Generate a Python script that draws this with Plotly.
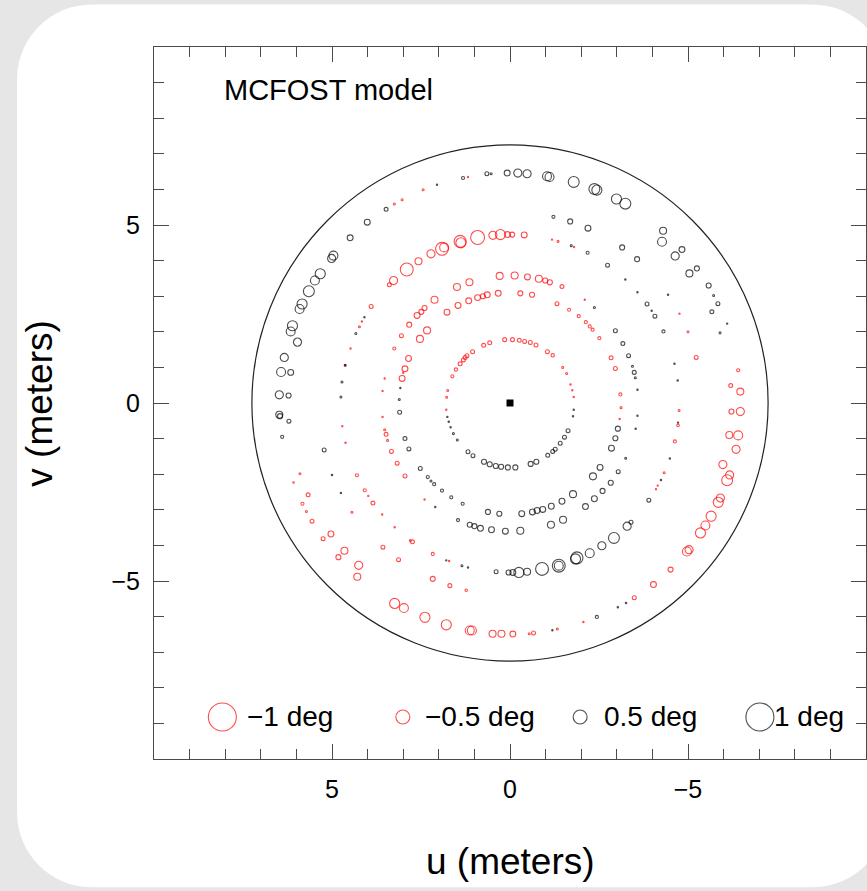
import plotly.graph_objects as go

# Closure-phase signal on the uv plane: (u [m], v [m], phase [deg])
outer_black_nw = [
    (3.48, 5.44, 0.14), (4.01, 5.08, 0.21), (4.49, 4.64, 0.21), (4.96, 4.14, 0.32),
    (5.01, 4.06, 0.29), (5.33, 3.63, 0.36), (5.48, 3.44, 0.32), (5.65, 3.14, 0.39),
    (5.84, 2.78, 0.36), (5.91, 2.64, 0.32), (6.11, 2.17, 0.36), (6.16, 2.01, 0.32),
    (5.97, 1.71, 0.29), (6.34, 1.28, 0.29), (6.43, 0.87, 0.32), (6.16, 0.86, 0.21),
    (6.48, 0.23, 0.29), (6.22, 0.21, 0.18), (6.48, -0.33, 0.25), (6.46, -0.37, 0.18),
    (6.21, -0.51, 0.14), (6.40, -0.95, 0.11), (5.22, -1.32, 0.14),
]
outer_black_n = [
    (1.32, 6.32, 0.11), (2.05, 6.13, 0.04), (0.65, 6.44, 0.14), (0.53, 6.44, 0.07),
    (0.08, 6.46, 0.21), (-0.22, 6.46, 0.29), (-0.48, 6.44, 0.29), (-1.04, 6.37, 0.32),
    (-1.11, 6.35, 0.32), (-1.79, 6.21, 0.39), (-2.37, 6.01, 0.39), (-2.44, 5.98, 0.36),
    (-2.99, 5.73, 0.36), (-3.24, 5.60, 0.39),
]
black_ne = [
    (-4.30, 4.84, 0.25), (-4.27, 4.53, 0.32), (-4.83, 4.31, 0.21), (-4.64, 4.13, 0.29),
    (-5.25, 3.78, 0.18), (-5.04, 3.64, 0.25), (-5.58, 3.30, 0.18), (-5.72, 3.02, 0.07),
    (-5.84, 2.79, 0.14), (-5.67, 2.56, 0.14), (-6.10, 2.23, 0.04), (-5.90, 1.97, 0.07),
    (-4.31, 2.01, 0.11),
]
black_e = [
    (-1.22, 5.23, 0.11), (-1.69, 5.10, 0.18), (-2.19, 4.91, 0.21), (-1.72, 4.42, 0.07),
    (-2.18, 4.22, 0.11), (-3.15, 4.37, 0.18), (-3.57, 4.04, 0.18), (-2.74, 3.87, 0.14),
    (-3.24, 3.47, 0.05), (-3.58, 3.11, 0.05), (-4.44, 3.04, 0.05), (-3.85, 2.78, 0.14),
    (-3.98, 2.59, 0.04), (-4.07, 2.44, 0.14), (-2.37, 2.68, 0.07), (-2.96, 2.03, 0.14),
    (-3.17, 1.67, 0.14), (-3.33, 1.33, 0.14), (-3.44, 1.03, 0.07), (-3.49, 0.86, 0.14),
    (-3.52, 0.71, 0.07), (-3.58, 0.37, 0.05), (-3.58, -0.36, 0.04), (-3.53, -0.72, 0.05),
    (-4.62, 1.10, 0.05), (-4.71, 0.63, 0.05), (-4.49, -1.56, 0.04), (-4.24, -2.16, 0.05),
    (-3.25, -1.55, 0.07), (-3.90, -2.73, 0.14), (-3.26, -5.62, 0.05), (-3.03, -5.74, 0.05),
    (-2.44, -6.01, 0.11), (-1.19, -6.38, 0.05), (-4.72, -0.55, 0.04),
]
black_mid = [
    (-3.03, -0.72, 0.18), (-2.96, -0.99, 0.18), (-2.85, -1.27, 0.21), (-2.53, -1.81, 0.21),
    (-2.33, -2.06, 0.25), (-3.04, -1.93, 0.14), (-2.83, -2.24, 0.18), (-2.60, -2.47, 0.18),
    (-1.77, -2.56, 0.25), (-2.37, -2.69, 0.21), (-2.12, -2.91, 0.21), (-1.46, -2.76, 0.21),
    (-1.16, -2.90, 0.21), (-0.92, -2.99, 0.21), (-0.76, -3.02, 0.21), (-0.63, -3.06, 0.21),
    (-0.33, -3.11, 0.21), (0.30, -3.11, 0.18), (0.62, -3.06, 0.18), (1.33, -2.83, 0.11),
    (1.65, -2.65, 0.11), (1.91, -2.46, 0.11), (2.13, -2.28, 0.11), (2.22, -2.19, 0.07),
    (2.31, -2.08, 0.11), (2.52, -1.84, 0.14), (2.84, -1.29, 0.14), (2.95, -1.00, 0.14),
    (3.10, -0.26, 0.14), (3.11, 0.10, 0.07), (3.08, 0.42, 0.04), (2.10, -2.92, 0.04),
    (1.46, -3.29, 0.11), (1.13, -3.42, 0.18), (1.00, -3.46, 0.18), (0.83, -3.52, 0.21),
    (0.52, -3.56, 0.21), (0.13, -3.60, 0.21), (-0.29, -3.59, 0.25), (-1.15, -3.42, 0.25),
    (-1.49, -3.28, 0.25),
]
black_s = [
    (0.39, -4.74, 0.14), (0.04, -4.76, 0.18), (-0.08, -4.76, 0.21), (-0.25, -4.76, 0.36),
    (-0.48, -4.74, 0.25), (-0.90, -4.66, 0.46), (-1.37, -4.57, 0.46), (-1.37, -4.57, 0.32),
    (-1.84, -4.38, 0.36), (-1.88, -4.35, 0.43), (-2.24, -4.22, 0.32), (-2.58, -4.01, 0.29),
    (-2.92, -3.79, 0.39), (-3.29, -3.46, 0.29), (-3.40, -3.35, 0.14), (1.35, -4.57, 0.07),
    (1.18, -4.62, 0.04), (1.79, -4.42, 0.04),
]
black_inner = [
    (1.76, -0.39, 0.04), (1.72, -0.53, 0.05), (1.67, -0.68, 0.05), (1.59, -0.86, 0.07),
    (1.48, -1.04, 0.07), (1.18, -1.37, 0.14), (1.04, -1.48, 0.14), (0.73, -1.65, 0.18),
    (0.57, -1.72, 0.18), (0.40, -1.77, 0.18), (0.25, -1.79, 0.18), (0.06, -1.81, 0.18),
    (-0.15, -1.81, 0.18), (-0.58, -1.71, 0.18), (-0.74, -1.65, 0.18), (-1.06, -1.47, 0.14),
    (-1.20, -1.36, 0.14), (-1.27, -1.30, 0.14), (-1.41, -1.13, 0.14), (-1.53, -0.96, 0.14),
    (-1.63, -0.78, 0.14), (-1.79, -0.19, 0.05), (-1.77, -0.37, 0.05),
]
black_w = [
    (4.33, 1.95, 0.07), (4.63, 1.06, 0.07), (4.72, 0.59, 0.07), (4.75, 0.17, 0.07),
    (4.09, 2.41, 0.04), (5.00, -2.02, 0.05), (4.75, -2.53, 0.04),
]
red_inner = [
    (0.74, 1.62, -0.14), (0.57, 1.69, -0.14), (0.15, 1.78, -0.14), (-0.07, 1.78, -0.14),
    (-0.26, 1.76, -0.14), (-0.41, 1.73, -0.14), (-0.57, 1.70, -0.14), (-0.73, 1.63, -0.14),
    (-1.05, 1.44, -0.14), (-1.20, 1.34, -0.12), (-1.48, 1.00, -0.07), (-1.59, 0.83, -0.07),
    (-1.70, 0.52, -0.05), (-1.75, 0.36, -0.04), (-1.79, 0.17, -0.03), (1.05, 1.44, -0.14),
    (1.21, 1.33, -0.14), (1.26, 1.28, -0.14), (1.31, 1.21, -0.14), (1.40, 1.10, -0.14),
    (1.52, 0.94, -0.12), (1.62, 0.75, -0.11), (1.75, 0.35, -0.07), (1.78, 0.16, -0.07),
    (1.79, -0.19, -0.04),
]
red_mid_n = [
    (0.29, 3.57, -0.25), (-0.13, 3.58, -0.25), (-0.49, 3.54, -0.21), (-0.81, 3.49, -0.25),
    (-0.99, 3.44, -0.18), (-1.12, 3.39, -0.18), (-1.46, 3.27, -0.14), (1.14, 3.39, -0.25),
    (1.49, 3.26, -0.25), (2.12, 2.90, -0.25), (2.40, 2.67, -0.18), (2.49, 2.56, -0.18),
    (2.61, 2.46, -0.21), (2.83, 2.20, -0.18), (3.05, 1.89, -0.14), (3.25, 1.53, -0.11),
    (2.85, 1.25, -0.21), (2.95, 0.96, -0.21), (3.00, 0.85, -0.04), (3.03, 0.69, -0.21),
    (2.53, 1.80, -0.25), (2.33, 2.04, -0.25),
]
red_mid = [
    (0.33, 3.08, -0.21), (0.64, 3.04, -0.21), (0.76, 3.00, -0.18), (0.91, 2.96, -0.21),
    (1.16, 2.87, -0.21), (1.46, 2.74, -0.21), (1.77, 2.55, -0.21), (-0.29, 3.08, -0.18),
    (-0.62, 3.04, -0.18), (-1.32, 2.79, -0.14), (-1.66, 2.62, -0.11), (-1.93, 2.44, -0.11),
    (-2.13, 2.27, -0.11), (-2.24, 2.15, -0.11), (-2.32, 2.06, -0.11), (-2.51, 1.82, -0.11),
    (-2.84, 1.27, -0.14), (-2.96, 0.97, -0.14), (-3.10, 0.24, -0.11), (-3.12, -0.13, -0.07),
    (-3.08, -0.45, -0.04), (-2.10, 2.90, -0.04), (3.52, 0.69, -0.04), (3.58, 0.34, -0.04),
    (3.58, -0.39, -0.04), (3.52, -0.75, -0.07), (3.48, -0.88, -0.14), (3.44, -1.05, -0.07),
    (3.33, -1.36, -0.14), (3.17, -1.69, -0.14), (2.95, -2.05, -0.14), (2.40, -2.71, -0.04),
    (2.17, -4.24, -0.11), (1.71, -4.44, -0.04), (2.17, -4.94, -0.18), (1.69, -5.13, -0.14),
    (1.23, -5.26, -0.09),
]
red_nw = [
    (0.91, 4.65, -0.50), (1.40, 4.54, -0.43), (1.38, 4.50, -0.36), (1.91, 4.33, -0.46),
    (1.85, 4.37, -0.32), (2.22, 4.19, -0.29), (2.57, 3.98, -0.25), (2.90, 3.75, -0.46),
    (3.27, 3.44, -0.29), (3.39, 3.32, -0.14), (3.90, 2.71, -0.14), (0.48, 4.71, -0.29),
    (0.27, 4.73, -0.36), (0.07, 4.73, -0.21), (-0.06, 4.73, -0.18), (-0.40, 4.72, -0.21),
    (-1.18, 4.59, -0.04), (-1.35, 4.54, -0.07), (-1.80, 4.38, -0.04), (2.44, 5.99, -0.07),
    (3.25, 5.59, -0.07), (3.03, 5.71, -0.07), (1.18, 6.35, -0.04), (4.16, 2.29, -0.04),
    (4.23, 2.14, -0.07), (4.48, 1.53, -0.04), (4.63, 1.06, -0.04), (4.71, -0.65, -0.04),
    (4.62, -1.12, -0.05), (4.30, -2.03, -0.11), (4.08, -2.45, -0.11), (3.98, -2.61, -0.04),
    (3.85, -2.81, -0.14), (4.44, -3.07, -0.07), (3.59, -3.13, -0.05), (3.24, -3.49, -0.05),
    (3.57, -4.05, -0.14), (3.13, -4.40, -0.14), (2.80, -3.86, -0.07), (2.74, -3.90, -0.14),
]
red_outer = [
    (5.90, -1.99, -0.07), (6.08, -2.23, -0.05), (5.67, -2.58, -0.14), (5.83, -2.83, -0.11),
    (5.72, -3.05, -0.07), (5.56, -3.32, -0.14), (5.03, -3.68, -0.21), (5.25, -3.81, -0.14),
    (4.65, -4.15, -0.25), (4.82, -4.33, -0.18), (4.25, -4.56, -0.29), (4.29, -4.88, -0.25),
    (3.24, -5.63, -0.36), (2.98, -5.76, -0.32), (2.39, -6.02, -0.36), (1.79, -6.23, -0.36),
    (1.13, -6.39, -0.32), (1.07, -6.39, -0.32), (0.49, -6.48, -0.25), (0.24, -6.48, -0.25),
    (-0.08, -6.49, -0.21), (-0.54, -6.48, -0.07), (-0.66, -6.46, -0.14), (-1.33, -6.35, -0.07),
    (-2.06, -6.15, -0.05), (-3.49, -5.47, -0.14), (-4.03, -5.10, -0.21), (-4.51, -4.68, -0.18),
    (-4.97, -4.17, -0.32), (-5.03, -4.12, -0.29), (-5.35, -3.65, -0.36), (-5.49, -3.44, -0.32),
    (-5.65, -3.18, -0.36), (-5.85, -2.79, -0.36), (-5.91, -2.67, -0.29), (-6.10, -2.17, -0.39),
    (-6.17, -2.02, -0.29), (-5.98, -1.73, -0.29), (-6.35, -1.30, -0.29), (-6.16, -0.90, -0.25),
    (-6.41, -0.91, -0.32), (-6.22, -0.24, -0.18), (-6.47, -0.24, -0.29), (-6.47, 0.32, -0.25),
    (-6.20, 0.49, -0.14), (-6.41, 0.92, -0.11), (-5.23, 1.28, -0.14), (-5.00, 2.00, -0.07),
    (-4.76, 2.51, -0.04), (-4.75, -0.21, -0.07), (-4.72, -0.63, -0.09), (-4.63, -1.08, -0.11),
    (-4.33, -1.96, -0.07), (-4.15, -2.32, -0.04), (-4.10, -2.42, -0.04),
]

# Legend samples
legend_u = [8.08, 3.01, -1.97, -7.02]
legend_v = [-8.82, -8.82, -8.82, -8.82]
legend_phase = [-1.0, -0.5, 0.5, 1.0]
legend_labels = ["\u22121 deg", "\u22120.5 deg", "0.5 deg", "1 deg"]
legend_text_u = [7.45, 2.43, -2.58, -7.37]

mask_radius = 7.25  # outer edge of the uv coverage (m)
px_per_deg = 28.0   # marker diameter for |phase| = 1 deg

FONT = "Liberation Sans, Arial, Helvetica, sans-serif"
RED = "#ff0000"
BLACK = "#000000"
AXIS = "#4a4a4a"

all_points = (outer_black_nw + outer_black_n + black_ne + black_e + black_mid + black_s
              + black_inner + black_w + red_inner + red_mid_n + red_mid + red_nw + red_outer)


def marker_size(ph):
    return max(px_per_deg * abs(ph), 1.3)


fig = go.Figure()
for sign, col in ((-1, RED), (1, BLACK)):
    sel = [p for p in all_points if (p[2] < 0) == (sign < 0)]
    fig.add_trace(go.Scatter(
        x=[p[0] for p in sel], y=[p[1] for p in sel], mode="markers",
        marker=dict(symbol="circle-open", color=col, size=[marker_size(p[2]) for p in sel],
                    line=dict(width=1.1, color=col)),
        showlegend=False, hoverinfo="skip"))

# central source
fig.add_trace(go.Scatter(x=[0], y=[0], mode="markers",
                         marker=dict(symbol="square", color=BLACK, size=7),
                         showlegend=False, hoverinfo="skip"))

# legend glyphs
fig.add_trace(go.Scatter(
    x=legend_u, y=legend_v, mode="markers",
    marker=dict(symbol="circle-open", size=[marker_size(p) for p in legend_phase],
                color=[RED if p < 0 else BLACK for p in legend_phase],
                line=dict(width=1.1, color=[RED if p < 0 else BLACK for p in legend_phase])),
    showlegend=False, hoverinfo="skip"))

annotations = []
for tu, tv, lab in zip(legend_text_u, legend_v, legend_labels):
    annotations.append(dict(x=tu, y=tv, xref="x", yref="y", text=lab, showarrow=False,
                            xanchor="left", yanchor="middle",
                            font=dict(family=FONT, size=28, color=BLACK)))
annotations.append(dict(x=8.08, y=8.8, xref="x", yref="y", text="MCFOST model",
                        showarrow=False, xanchor="left", yanchor="middle",
                        font=dict(family=FONT, size=29, color=BLACK)))
annotations.append(dict(x=0.5014, y=-0.144, xref="paper", yref="paper", text="u (meters)",
                        showarrow=False, xanchor="center", yanchor="middle",
                        font=dict(family=FONT, size=37, color=BLACK)))
annotations.append(dict(x=-0.162, y=0.5, xref="paper", yref="paper", text="v (meters)",
                        showarrow=False, xanchor="center", yanchor="middle", textangle=-90,
                        font=dict(family=FONT, size=37, color=BLACK)))


def rounded_rect(x0, y0, x1, y1, r, ry):
    k = 0.5523
    return (f"M {x0 + r},{y1} L {x1 - r},{y1} "
            f"C {x1 - r + k * r},{y1} {x1},{y1 - ry + k * ry} {x1},{y1 - ry} "
            f"L {x1},{y0 + ry} "
            f"C {x1},{y0 + ry - k * ry} {x1 - r + k * r},{y0} {x1 - r},{y0} "
            f"L {x0 + r},{y0} "
            f"C {x0 + r - k * r},{y0} {x0},{y0 + ry - k * ry} {x0},{y0 + ry} "
            f"L {x0},{y1 - ry} "
            f"C {x0},{y1 - ry + k * ry} {x0 + r - k * r},{y1} {x0 + r},{y1} Z")


shapes = [
    dict(type="path", xref="paper", yref="paper", layer="below",
         path=rounded_rect(-0.1924, -0.18, 1.03, 1.0597, 0.105, 0.105),
         fillcolor="white", line=dict(width=0)),
    dict(type="circle", xref="x", yref="y", x0=-mask_radius, x1=mask_radius,
         y0=-mask_radius, y1=mask_radius, line=dict(color="#222222", width=1.2)),
]

axis_common = dict(
    showgrid=False, zeroline=False, showline=True, linecolor=AXIS, linewidth=1,
    mirror="allticks", ticks="inside", ticklen=15, tickwidth=1, tickcolor=AXIS,
    tickvals=[-5, 0, 5], tickfont=dict(family=FONT, size=25, color=BLACK),
    minor=dict(tick0=0, dtick=1, ticks="inside", ticklen=10, tickwidth=1,
               tickcolor=AXIS, showgrid=False),
    ticklabelstandoff=8,
)

fig.update_layout(
    width=867, height=891,
    margin=dict(l=154, r=1, t=47, b=132),
    paper_bgcolor="#e6e6e6", plot_bgcolor="white",
    xaxis=dict(range=[10, -10], **axis_common),
    yaxis=dict(range=[-10, 10], **axis_common),
    shapes=shapes, annotations=annotations, showlegend=False,
)

fig.write_html("out.html")
